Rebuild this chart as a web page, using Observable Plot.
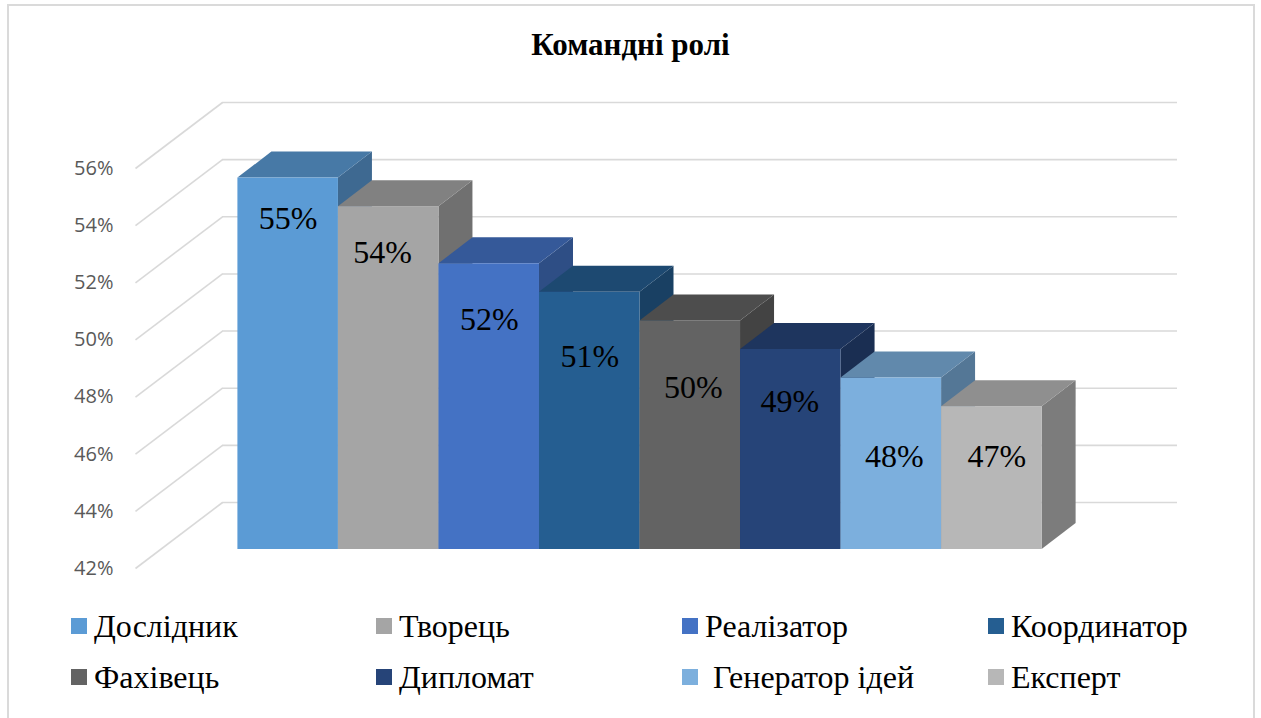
<!DOCTYPE html>
<html>
<head>
<meta charset="utf-8">
<script src="https://cdn.jsdelivr.net/npm/d3@7"></script>
<script src="https://cdn.jsdelivr.net/npm/@observablehq/plot@0.6"></script>
<style>
  html, body { margin: 0; padding: 0; background: #fff; overflow: hidden; }
  #page { position: relative; width: 1261px; height: 718px; }
  #frame { position: absolute; left: 7px; top: 4px; width: 1248px; height: 800px; border: 2px solid #dadada; box-sizing: border-box; }
  #title { position: absolute; left: 0; width: 1261px; top: 29px; text-align: center; font: bold 31px/31px "Liberation Serif", serif; color: #000; }
  #chart { position: absolute; left: 0; top: 0; }
  .item { position: absolute; height: 32px; white-space: pre; font: 32px/32px "Liberation Serif", serif; color: #000; }
  .item .sw { position: absolute; left: 0; top: 8px; width: 16px; height: 16px; }
  .item .tx { position: absolute; left: 23px; top: 0; }
</style>
</head>
<body>
<div id="page">
  <div id="frame"></div>
  <div id="chart"></div>
  <div id="title">Командні ролі</div>
  <div id="legend"></div>
</div>
<script>
// ---- data ----
const roles = ["Дослідник", "Творець", "Реалізатор", "Координатор", "Фахівець", "Дипломат", " Генератор ідей", "Експерт"];
const values = [55, 54, 52, 51, 50, 49, 48, 47];
const yTicks = [42, 44, 46, 48, 50, 52, 54, 56];

// ---- style ----
const roleColors = ["#5B9BD5", "#A5A5A5", "#4472C4", "#255E91", "#636363", "#264478", "#7CAFDD", "#B7B7B7"];
const labelDx = [0, -6, 0, 0, 3, -1, 3, 5];
const labelDy = [41, 46, 56, 64, 67, 52, 79, 50];

function shade(c, k) {
  const r = d3.rgb(c);
  return d3.rgb(r.r * k, r.g * k, r.b * k).formatHex();
}

// geometry (pixels)
const W = 1261, H = 600;
const mL = 135, mR = 171, mT = 168, mB = 32;
const xDomain = [-1.27, 8.23];
const yDomain = [42, 56];
const pxX = (W - mL - mR) / (xDomain[1] - xDomain[0]);
const pxY = (H - mT - mB) / (yDomain[1] - yDomain[0]);
// back wall offset and bar depth, in data units
const BX = 87 / pxX, BY = 66 / pxY;
const DX = 34 / pxX, DY = 26 / pxY;
// bar plane offset (pixels)
const PDX = 25, PDY = -19;

const bars = roles.map((r, i) => ({
  i, role: r, v: values[i],
  front: roleColors[i],
  top: shade(roleColors[i], 0.78),
  side: shade(roleColors[i], 0.68)
}));

const topPts = bars.flatMap(d => [
  {i: d.i, y: d.v, x1: d.i - 0.5, x2: d.i + 0.5, c: d.top},
  {i: d.i, y: d.v + DY, x1: d.i - 0.5 + DX, x2: d.i + 0.5 + DX, c: d.top}
]);
const sidePts = bars.flatMap(d => [
  {i: d.i, x: d.i + 0.5, y1: yDomain[0], y2: d.v, c: d.side},
  {i: d.i, x: d.i + 0.5 + DX, y1: yDomain[0] + DY, y2: d.v + DY, c: d.side}
]);

const grid = "#d9d9d9";

const plot = Plot.plot({
  width: W, height: H,
  marginLeft: mL, marginRight: mR, marginTop: mT, marginBottom: mB,
  x: {type: "linear", domain: xDomain, axis: null},
  y: {type: "linear", domain: yDomain},
  color: {type: "identity"},
  style: {fontFamily: "'Open Sans', sans-serif", fontSize: "20px", color: "#595959", background: "transparent", overflow: "visible"},
  marks: [
    // back wall gridlines
    Plot.ruleY(yTicks, {y: t => t + BY, x1: () => xDomain[0] + BX, x2: () => xDomain[1] + BX, stroke: grid, strokeWidth: 1.6}),
    // side wall diagonals
    Plot.link(yTicks, {x1: () => xDomain[0], y1: t => t, x2: () => xDomain[0] + BX, y2: t => t + BY, stroke: grid, strokeWidth: 1.6}),
    Plot.axisY({ticks: yTicks, tickSize: 0, tickPadding: 22, tickFormat: d => d + "%", fill: "#595959", fontSize: 20}),
    // 3D bars
    Plot.areaY(sidePts, {x: "x", y1: "y1", y2: "y2", z: "i", fill: "c", curve: "linear", dx: PDX, dy: PDY}),
    Plot.areaX(topPts, {y: "y", x1: "x1", x2: "x2", z: "i", fill: "c", curve: "linear", dx: PDX, dy: PDY}),
    Plot.rect(bars, {x1: d => d.i - 0.5, x2: d => d.i + 0.5, y1: () => yDomain[0], y2: "v", fill: "front", dx: PDX, dy: PDY}),
    // data labels
    ...bars.map(d => Plot.text([d], {
      x: "i", y: "v", text: d => d.v + "%",
      dx: PDX + labelDx[d.i], dy: PDY + labelDy[d.i],
      fill: "#000", fontSize: 32, fontFamily: "Liberation Serif, serif"
    }))
  ]
});
document.getElementById("chart").appendChild(plot);

// legend
const legend = document.getElementById("legend");
const colX = [71, 376, 682, 988];
const rowY = [610, 661];
roles.forEach((r, i) => {
  const item = document.createElement("div");
  item.className = "item";
  item.style.left = colX[i % 4] + "px";
  item.style.top = rowY[Math.floor(i / 4)] + "px";
  const sw = document.createElement("span");
  sw.className = "sw";
  sw.style.background = roleColors[i];
  const tx = document.createElement("span");
  tx.className = "tx";
  tx.textContent = r;
  item.appendChild(sw);
  item.appendChild(tx);
  legend.appendChild(item);
});
</script>
</body>
</html>
